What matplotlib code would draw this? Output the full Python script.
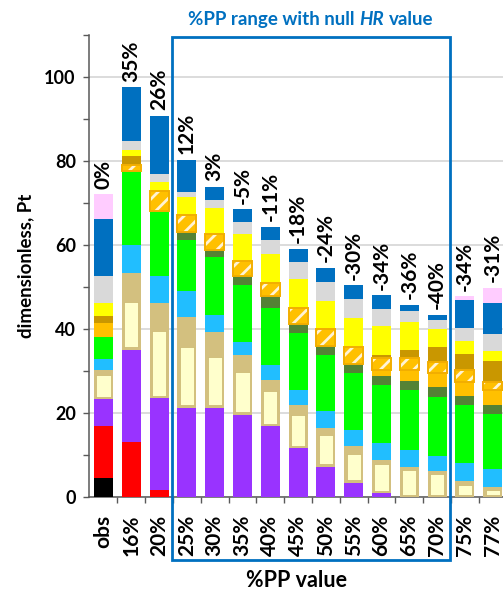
import numpy as np
import matplotlib
matplotlib.use("Agg")
import matplotlib.pyplot as plt
from matplotlib.patches import Rectangle
from matplotlib.transforms import blended_transform_factory

FONT = ["Lato", "DejaVu Sans"]
plt.rcParams["font.family"] = FONT
plt.rcParams["hatch.linewidth"] = 2.0

# ---------------- data ----------------
categories = ["obs", "16%", "20%", "25%", "30%", "35%", "40%", "45%", "50%",
              "55%", "60%", "65%", "70%", "75%", "77%"]
change_labels = ["0%", "35%", "26%", "12%", "3%", "-5%", "-11%", "-18%", "-24%",
                 "-30%", "-34%", "-36%", "-40%", "-34%", "-31%"]

black_vals   = [4.5, 0, 0, 0, 0, 0, 0, 0, 0, 0, 0, 0, 0, 0, 0]
red_vals     = [12.4, 13.2, 1.7, 0, 0, 0, 0, 0, 0, 0, 0, 0, 0, 0, 0]
purple_vals  = [6.4, 21.9, 21.8, 21.3, 21.3, 19.6, 16.8, 11.6, 7.2, 3.4, 0.9, 0, 0, 0, 0]
cream_vals   = [6.3, 11.9, 16.5, 14.9, 12.7, 10.6, 9.0, 8.4, 8.0, 7.4, 7.4, 7.0, 6.1, 3.5, 2.3]
tan_vals     = [0.7, 6.4, 6.2, 6.6, 5.3, 3.5, 2.1, 2.0, 1.2, 1.4, 0.5, 0.2, 0.2, 0.2, 0.2]
ltblue_vals  = [2.6, 6.5, 6.4, 6.2, 4.1, 3.2, 3.6, 3.5, 4.0, 3.8, 4.0, 3.9, 3.5, 4.3, 4.1]
green_vals   = [5.2, 17.7, 15.5, 12.1, 13.7, 13.5, 13.5, 13.6, 13.5, 13.5, 13.9, 14.3, 14.1, 14.0, 13.2]
olive_vals   = [0, 0, 0, 2.0, 1.8, 2.2, 2.8, 2.1, 2.0, 2.2, 2.2, 2.3, 2.3, 2.1, 2.2]
orange_vals  = [3.3, 0, 0, 0, 0, 0, 0, 0, 0, 0, 1.4, 2.6, 3.3, 3.2, 3.4]
hatched_vals = [0, 1.4, 4.8, 4.0, 3.8, 3.6, 3.2, 3.8, 4.0, 3.9, 2.8, 2.8, 2.6, 3.0, 2.1]
gold_vals    = [1.6, 2.1, 0, 0, 0, 0, 0, 0, 0, 0, 0.8, 2.0, 3.5, 3.8, 5.0]
yellow_vals  = [3.2, 1.6, 2.0, 4.4, 6.0, 6.3, 6.8, 6.8, 6.7, 6.9, 6.9, 6.6, 4.3, 3.0, 2.2]
gray_vals    = [6.5, 2.1, 2.1, 1.1, 1.9, 3.0, 3.4, 4.1, 4.5, 4.7, 4.0, 2.5, 2.3, 3.2, 4.0]
blue_vals    = [13.6, 12.7, 13.8, 7.7, 3.3, 3.0, 3.2, 3.2, 3.5, 3.2, 3.2, 1.6, 1.2, 6.7, 7.5]
pink_vals    = [5.8, 0, 0, 0, 0, 0, 0, 0, 0, 0, 0, 0, 0, 0.8, 3.6]

null_hr_range = ("25%", "70%")

# ---------------- styles ----------------
C_TAN = "#D3C07F"
C_CREAM = "#FFFFCC"
C_ORANGE = "#FFC000"
C_BOXEDGE = "#F2AE00"
C_FRAME = "#0070C0"

series = [
    (black_vals, "#000000", "plain"),
    (red_vals, "#FF0000", "plain"),
    (purple_vals, "#9933FF", "plain"),
    (cream_vals, C_CREAM, "cream"),
    (tan_vals, C_TAN, "plain"),
    (ltblue_vals, "#21BEFF", "plain"),
    (green_vals, "#00FF00", "plain"),
    (olive_vals, "#548235", "plain"),
    (orange_vals, C_ORANGE, "plain"),
    (hatched_vals, C_ORANGE, "hatch"),
    (gold_vals, "#C99700", "plain"),
    (yellow_vals, "#FFFF00", "plain"),
    (gray_vals, "#D9D9D9", "plain"),
    (blue_vals, "#0070C0", "plain"),
    (pink_vals, "#FFCCFF", "plain"),
]

W, H = 503, 593
fig = plt.figure(figsize=(W / 100, H / 100), dpi=100)
ax_left, ax_right = 89 / W, 1.0
ax_bottom, ax_top = (H - 497) / H, (H - 35) / H
ax = fig.add_axes([ax_left, ax_bottom, ax_right - ax_left, ax_top - ax_bottom])

x = np.arange(len(categories))
bw = 0.68
bottom = np.zeros(len(categories))
for vals, col, kind in series:
    v = np.array(vals, dtype=float)
    if kind == "plain":
        ax.bar(x, v, bw, bottom=bottom, color=col, linewidth=0, zorder=3)
    elif kind == "cream":
        ax.bar(x, v, bw, bottom=bottom, color=C_TAN, linewidth=0, zorder=3)
        dy, dx = 0.55, 0.085
        ax.bar(x, np.maximum(v - 2 * dy, 0), bw - 2 * dx, bottom=bottom + dy,
               color=C_CREAM, edgecolor="#C8B46E", linewidth=0.5, zorder=3)
    elif kind == "hatch":
        m = v > 0
        ax.bar(x[m], v[m], bw, bottom=bottom[m], color=col, hatch="//",
               edgecolor="#FFF3D6", linewidth=0, zorder=4)
        ax.bar(x[m], v[m], bw, bottom=bottom[m], facecolor="none",
               edgecolor=C_BOXEDGE, linewidth=1.4, zorder=5)
    bottom = bottom + v

totals = bottom
for xi, tot, lab in zip(x, totals, change_labels):
    ax.annotate(lab, (xi, tot), xytext=(0, 4), textcoords="offset points",
                rotation=90, ha="center", va="bottom", fontsize=15,
                fontweight="bold", color="black", zorder=6)

# axes styling
ax.set_xlim(-0.52, -0.52 + (W - 89) / 27.8)
ax.set_ylim(0, 110)
ax.set_yticks(np.arange(0, 101, 20))
ax.set_yticks(np.arange(10, 111, 20), minor=True)
ax.set_xticks(x)
ax.set_xticks(x[:-1] + 0.5, minor=True)
ax.set_xticklabels(categories, rotation=90, fontsize=15, fontweight="bold")
for t in ax.get_yticklabels():
    t.set_fontweight("bold")
    t.set_fontsize(13)
ax.tick_params(axis="x", which="major", length=0, pad=13)
ax.tick_params(axis="x", which="minor", length=4, width=1, color="#595959", direction="out")
ax.tick_params(axis="y", which="both", length=4.5, width=1, color="#595959", direction="out", pad=5)
ax.grid(axis="y", which="major", color="#D9D9D9", linewidth=1.3, zorder=0)
ax.set_axisbelow(True)
for s in ["top", "right"]:
    ax.spines[s].set_visible(False)
for s in ["left", "bottom"]:
    ax.spines[s].set_color("#595959")
    ax.spines[s].set_linewidth(1.1)

ax.set_ylabel("dimensionless, Pt", fontsize=13.5, fontweight="bold", labelpad=7)
ax.set_xlabel("%PP value", fontsize=15.5, fontweight="bold", labelpad=10)

# null HR range frame
i0 = categories.index(null_hr_range[0])
i1 = categories.index(null_hr_range[1])
trans = blended_transform_factory(ax.transData, ax.transAxes)
rect = Rectangle((i0 - 0.54, -0.137), (i1 - i0) + 1.0, 0.137 + 0.996,
                 transform=trans, fill=False, edgecolor=C_FRAME, linewidth=2,
                 clip_on=False, zorder=7)
ax.add_patch(rect)

# title with italic HR
renderer = fig.canvas.get_renderer()
tkw = dict(fontsize=13.5, fontweight="bold", color=C_FRAME, va="baseline")
parts = [("%PP range with null", "normal"), ("HR", "italic"), ("value", "normal")]
probe1 = fig.text(0, 0, "x x", **tkw)
probe2 = fig.text(0, 0, "xx", **tkw)
space_w = (probe1.get_window_extent(renderer).width
           - probe2.get_window_extent(renderer).width)
probe1.remove(); probe2.remove()
objs = []
widths = []
for s, st in parts:
    t = fig.text(0, 0, s, style=st, **tkw)
    objs.append(t)
    widths.append(t.get_window_extent(renderer).width)
total_w = sum(widths) + space_w * (len(parts) - 1)
cx_disp = trans.transform(((i0 - 0.54) + ((i1 - i0) + 1.0) / 2, 0))[0]
x_cur = cx_disp - total_w / 2
y_base = (H - 25) / H
for t, w in zip(objs, widths):
    t.set_position((x_cur / (W), y_base))
    x_cur += w + space_w

fig.savefig("out.png", dpi=100)
